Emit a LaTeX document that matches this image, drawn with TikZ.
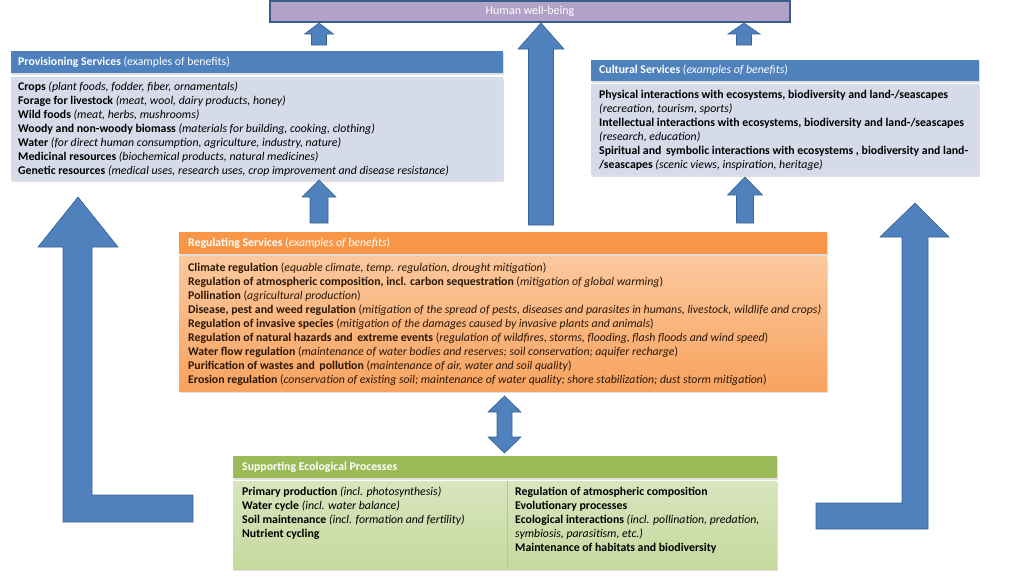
\documentclass[tikz,border=0pt]{standalone}
\usepackage{fontspec}
\setmainfont{Carlito}
\usetikzlibrary{shadows}
\definecolor{hdrblue}{HTML}{4F81BD}
\definecolor{bodyblue}{HTML}{D5DBE9}
\definecolor{arrfill}{HTML}{4F81BD}
\definecolor{arrline}{HTML}{3A6496}
\definecolor{hwbfill}{HTML}{B3A2C7}
\definecolor{hwbline}{HTML}{385D8A}
\definecolor{orghdr}{HTML}{F79646}
\definecolor{orgtop}{HTML}{FBC89E}
\definecolor{orgbot}{HTML}{F8A35F}
\definecolor{grnhdr}{HTML}{9BBB59}
\definecolor{grntop}{HTML}{D8E5BE}
\definecolor{grnbot}{HTML}{C6D99E}
\definecolor{grndiv}{HTML}{B5C98C}
\definecolor{regtext}{HTML}{2A1708}
\newcommand\blockup[6]{%
  \filldraw[arrowstyle] ({#1-#4},{#3}) -- ({#1-#4},{#2+#6}) -- ({#1-#5},{#2+#6}) -- ({#1},{#2})
    -- ({#1+#5},{#2+#6}) -- ({#1+#4},{#2+#6}) -- ({#1+#4},{#3}) -- cycle;}
\begin{document}
\begin{tikzpicture}[x=1pt,y=-1pt,
  box/.style={rectangle, inner sep=0pt, outer sep=0pt, anchor=north west},
  shadowed/.style={drop shadow={shadow xshift=1.2pt, shadow yshift=-1.5pt, opacity=0.25}},
  hdrtext/.style={inner sep=0pt, anchor=west, text=white, font=\fontsize{11.8}{14}\selectfont},
  bodytext/.style={inner sep=0pt, anchor=north west, align=left, font=\fontsize{11.8}{14}\selectfont},
  arrowstyle/.style={fill=arrfill, draw=arrline, line width=0.6pt, line join=miter}]
\useasboundingbox (0,0) rectangle (1024,576);

% Human well-being
\node[rectangle, draw=hwbline, line width=1.5pt, fill=hwbfill, minimum width=520pt, minimum height=21pt,
  inner sep=0pt, text=white, font=\fontsize{12}{14}\selectfont] (hwb) at (530,11.5) {Human well-being};

% Provisioning
\node[box, shadowed, fill=hdrblue, minimum width=492pt, minimum height=22pt] (provh) at (11,51) {};
\node[box, shadowed, fill=bodyblue, minimum width=492pt, minimum height=103pt] (provb) at (11,77) {};
\node[hdrtext] (provt) at ([xshift=7pt]provh.west) {\textbf{Provisioning Services} (examples of benefits)};
\node[bodytext] (provtxt) at ([xshift=7pt,yshift=-5pt]provb.north west) {%
\textbf{Crops} \textit{(plant foods, fodder, fiber, ornamentals)}\\
\textbf{Forage for livestock} \textit{(meat, wool, dairy products, honey)}\\
\textbf{Wild foods} \textit{(meat, herbs, mushrooms)}\\
\textbf{Woody and non-woody biomass} \textit{(materials for building, cooking, clothing)}\\
\textbf{Water} \textit{(for direct human consumption, agriculture, industry, nature)}\\
\textbf{Medicinal resources} \textit{(biochemical products, natural medicines)}\\
\textbf{Genetic resources} \textit{(medical uses, research uses, crop improvement and disease resistance)}};

% Cultural
\node[box, shadowed, fill=hdrblue, minimum width=388pt, minimum height=21pt] (culth) at (591,60) {};
\node[box, shadowed, fill=bodyblue, minimum width=388pt, minimum height=91pt] (cultb) at (591,84) {};
\node[hdrtext] (cultt) at ([xshift=8pt]culth.west) {\textbf{Cultural Services} (\textit{examples of benefits})};
\node[bodytext] (culttxt) at ([xshift=8pt,yshift=-6pt]cultb.north west) {%
\textbf{Physical interactions with ecosystems, biodiversity and land-/seascapes}\\
\textit{(recreation, tourism, sports)}\\
\textbf{Intellectual interactions with ecosystems, biodiversity and land-/seascapes}\\
\textit{(research, education)}\\
\textbf{Spiritual and\, symbolic interactions with ecosystems , biodiversity and land-}\\
\textbf{/seascapes} \textit{(scenic views, inspiration, heritage)}};

% Regulating
\node[box, shadowed, fill=orghdr, minimum width=648pt, minimum height=22pt] (regh) at (179,232) {};
\node[box, shadowed, top color=orgtop, bottom color=orgbot, minimum width=648pt, minimum height=135pt] (regb) at (179,256) {};
\node[hdrtext] (regt) at ([xshift=9pt]regh.west) {\textbf{Regulating Services} (\textit{examples of benefits})};
\node[bodytext, text=regtext] (regtxt) at ([xshift=9pt,yshift=-7pt]regb.north west) {%
\textbf{Climate regulation} (\textit{equable climate, temp. regulation, drought mitigation})\\
\textbf{Regulation of atmospheric composition, incl. carbon sequestration} (\textit{mitigation of global warming})\\
\textbf{Pollination} (\textit{agricultural production})\\
\textbf{Disease, pest and weed regulation} (\textit{mitigation of the spread of pests, diseases and parasites in humans, livestock, wildlife and crops)}\\
\textbf{Regulation of invasive species} (\textit{mitigation of the damages caused by invasive plants and animals})\\
\textbf{Regulation of natural hazards and\, extreme events} (\textit{regulation of wildfires, storms, flooding, flash floods and wind speed})\\
\textbf{Water flow regulation} (\textit{maintenance of water bodies and reserves; soil conservation; aquifer recharge})\\
\textbf{Purification of wastes and\, pollution} (\textit{maintenance of air, water and soil quality})\\
\textbf{Erosion regulation} (\textit{conservation of existing soil; maintenance of water quality; shore stabilization; dust storm mitigation})};

% Supporting
\node[box, shadowed, fill=grnhdr, minimum width=544pt, minimum height=22pt] (supph) at (233,456) {};
\node[box, shadowed, top color=grntop, bottom color=grnbot, minimum width=544pt, minimum height=88pt] (suppb) at (233,481) {};
\coordinate (divtop) at (507,481);
\coordinate (divbot) at (507,569);
\draw[grndiv, line width=0.8pt] (divtop) -- (divbot);
\node[hdrtext] (suppt) at ([xshift=9pt]supph.west) {\textbf{Supporting Ecological Processes}};
\node[bodytext] (supptxtl) at ([xshift=9pt,yshift=-6pt]suppb.north west) {%
\textbf{Primary production} \textit{(incl. photosynthesis)}\\
\textbf{Water cycle} \textit{(incl. water balance)}\\
\textbf{Soil maintenance} \textit{(incl. formation and fertility)}\\
\textbf{Nutrient cycling}};
\node[bodytext] (supptxtr) at ([xshift=8pt,yshift=-6pt]divtop) {%
\textbf{Regulation of atmospheric composition}\\
\textbf{Evolutionary processes}\\
\textbf{Ecological interactions} \textit{(incl. pollination, predation,}\\
\textit{symbiosis, parasitism, etc.)}\\
\textbf{Maintenance of habitats and biodiversity}};

% Arrows to Human well-being
\blockup{319}{23}{45}{7.5}{14.5}{11}
\blockup{541}{23}{225}{12.5}{23}{26}
\blockup{744}{23}{45}{7.5}{16}{11}
% Regulating -> provisioning / cultural
\blockup{319}{180}{223}{9}{17}{17}
\blockup{745}{177}{223}{8.5}{17.5}{18}
% Double arrow regulating <-> supporting
\filldraw[arrowstyle] (504.5,396) -- (521,412) -- (512,412) -- (512,437) -- (521,437) -- (504.5,453)
  -- (488,437) -- (497,437) -- (497,412) -- (488,412) -- cycle;
% L-shaped arrows from supporting
\filldraw[arrowstyle] (78,197) -- (118,247) -- (92,247) -- (92,495) -- (193,495) -- (193,522)
  -- (63,522) -- (63,247) -- (38,247) -- cycle;
\filldraw[arrowstyle] (915,203) -- (949,237) -- (928,237) -- (928,529) -- (816,529) -- (816,503)
  -- (902,503) -- (902,237) -- (880,237) -- cycle;
\end{tikzpicture}
\end{document}
